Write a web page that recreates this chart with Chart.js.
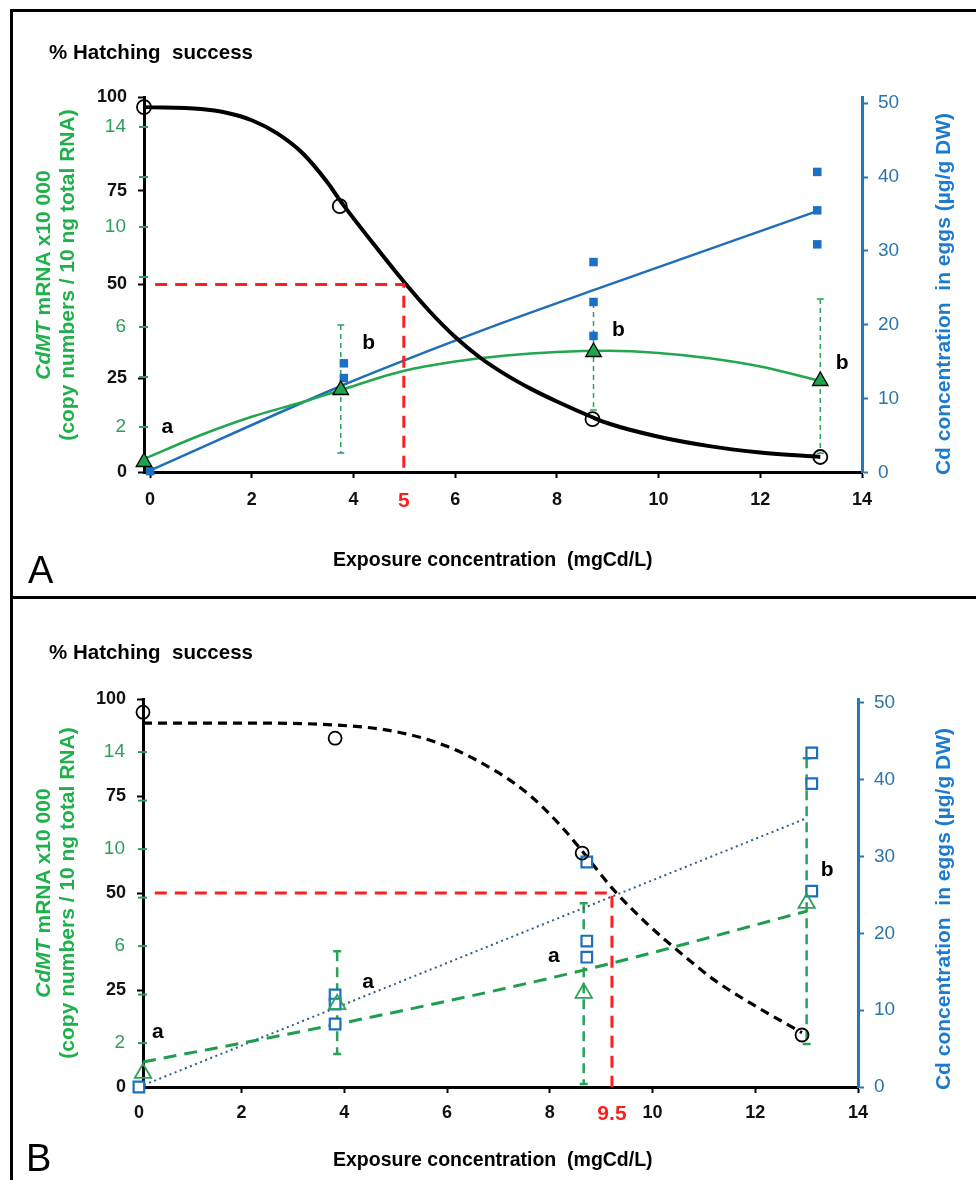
<!DOCTYPE html>
<html>
<head>
<meta charset="utf-8">
<title>Hatching success, CdMT mRNA and Cd in eggs</title>
<script src="https://cdn.jsdelivr.net/npm/chart.js"></script>
<style>
  body {
    margin: 0;
    width: 976px;
    height: 1180px;
    overflow: hidden;
    background: #fff;
    position: relative;
    font-family: "Liberation Sans", Arial, sans-serif;
  }
  canvas { position: absolute; left: 0; }
  #chartA { top: 0; }
  #chartB { top: 597px; }
  .frame {
    position: absolute; left: 10px; top: 9px; width: 990px; height: 1200px;
    border-left: 3px solid #000; border-top: 3px solid #000;
  }
  .divider { position: absolute; left: 10px; top: 596px; width: 990px; height: 3px; background: #000; }
  .txt { position: absolute; white-space: nowrap; font-weight: bold; line-height: 1; color: #000; }
  .panel { position: absolute; font-size: 38px; line-height: 1; }
  .ytitle {
    position: absolute; font-weight: bold; text-align: center; white-space: nowrap;
    transform: rotate(-90deg);
  }
  .green { color: #1fb04c; font-size: 21px; line-height: 24px; width: 360px; height: 48px; }
  .blue { color: #1c7ad0; font-size: 21px; line-height: 24px; width: 420px; height: 24px; }
</style>
</head>
<body>
<canvas id="chartA" width="976" height="597"></canvas>
<canvas id="chartB" width="976" height="583"></canvas>

<div class="frame"></div>
<div class="divider"></div>

<div class="txt" style="left:49px; top:41.6px; font-size:20.5px">% Hatching&nbsp; success</div>
<div class="txt" style="left:49px; top:641.6px; font-size:20.5px">% Hatching&nbsp; success</div>

<div class="ytitle green" style="left:-125px; top:251px"><div><i>CdMT</i> mRNA x10 000</div><div>(copy numbers / 10 ng total RNA)</div></div>
<div class="ytitle green" style="left:-125px; top:869px"><div><i>CdMT</i> mRNA x10 000</div><div>(copy numbers / 10 ng total RNA)</div></div>

<div class="ytitle blue" style="left:733px; top:282px">Cd concentration&nbsp; in eggs (µg/g DW)</div>
<div class="ytitle blue" style="left:733px; top:897px">Cd concentration&nbsp; in eggs (µg/g DW)</div>

<div class="txt" style="left:333px; top:549.5px; font-size:19.5px">Exposure concentration&nbsp; (mgCd/L)</div>
<div class="txt" style="left:333px; top:1149.5px; font-size:19.5px">Exposure concentration&nbsp; (mgCd/L)</div>

<div class="panel" style="left:28px; top:551px">A</div>
<div class="panel" style="left:26px; top:1139px">B</div>

<script>
// axis ticks
const xTicks = [0, 2, 4, 6, 8, 10, 12, 14];
const hatchTicks = [0, 25, 50, 75, 100];
const cdTicks = [0, 10, 20, 30, 40, 50];
const mtTicks = [2, 4, 6, 8, 10, 12, 14];
const mtTickLabels = [2, 6, 10, 14];

// ---- Panel A ----
// % hatching success (open circles) + fitted curve
const hatchDoseA = [-0.12, 3.73, 8.7, 13.18];
const hatchA = [97.3, 70.9, 14.1, 4.0];
const hatchFitDoseA = [-0.12, 1, 1.5, 2, 2.5, 3, 3.5, 3.73, 4.5, 5, 5.5, 6, 6.5, 7, 7.5, 8, 8.7, 9, 10, 11, 12, 13.18];
const hatchFitA = [97.3, 96.8, 95.8, 93.8, 90.3, 85, 77, 72.5, 59, 50.6, 42.8, 36, 30.4, 25.9, 22.1, 18.8, 14.6, 13.0, 9.4, 6.9, 5.2, 4.0];
// CdMT mRNA (triangles), error bars and fit
const mtDoseA = [-0.12, 3.75, 8.72, 13.18];
const mtA = [0.6, 3.48, 5.0, 3.84];
const mtLowA = [null, 0.96, 2.68, 0.95];
const mtHighA = [null, 6.08, 6.96, 7.12];
const mtFitDoseA = [-0.12, 1, 2, 3, 3.75, 5, 6, 7, 8, 9, 10, 11, 12, 13.18];
const mtFitA = [0.72, 1.68, 2.41, 3.0, 3.48, 4.25, 4.62, 4.86, 5.0, 5.05, 4.96, 4.75, 4.42, 3.84];
// Cd in eggs (squares) and fit
const cdDoseA = [0, 3.81, 3.81, 8.72, 8.72, 8.72, 13.12, 13.12, 13.12];
const cdA = [0.2, 14.8, 12.8, 28.5, 23.1, 18.5, 40.7, 35.5, 30.9];
const cdFitDoseA = [0, 3.81, 5, 6.9, 8.72, 13.12];
const cdFitA = [0.3, 11.9, 15.2, 20.2, 24.7, 35.4];
// EC50 marker
const ec50A = 4.99;
const ec50LabelA = "5";
const refDoseA = [0.1, 4.99, 4.99];
const refHatchA = [50, 50, 0];
// significance letters
const lettersA = ["a", "b", "b", "b"];
const letterDoseA = [0.34, 4.3, 9.21, 13.61];
const letterMtA = [2.0, 5.36, 5.88, 4.56];

// ---- Panel B ----
const hatchDoseB = [0.08, 3.82, 8.63, 12.91];
const hatchB = [96.6, 89.9, 60.3, 13.4];
const hatchFitDoseB = [0.08, 2, 3.82, 5, 6, 7, 7.6, 8.2, 8.63, 9.23, 9.9, 10.55, 11.2, 11.96, 12.91];
const hatchFitB = [93.8, 93.8, 93.3, 91.6, 87.8, 81, 75.3, 67.5, 60.8, 51, 42, 34.5, 27.6, 21.2, 14.0];
const mtDoseB = [0.08, 3.86, 8.66, 13.0];
const mtB = [0.76, 3.6, 4.06, 7.77];
const mtLowB = [null, 1.55, 0.31, 1.96];
const mtHighB = [null, 5.79, 7.77, 13.75];
const mtFitDoseB = [0.08, 3.86, 8.66, 13.0];
const mtFitB = [1.22, 2.78, 5.01, 7.44];
const cdDoseB = [0, 3.82, 3.82, 3.82, 8.72, 8.72, 8.72, 13.1, 13.1, 13.1];
const cdB = [0, 12.0, 10.8, 8.2, 29.3, 19.0, 16.9, 43.5, 39.5, 25.5];
const cdFitDoseB = [0, 13.0];
const cdFitB = [0, 35.0];
const ec50B = 9.21;
const ec50LabelB = "9.5";
const refDoseB = [0.31, 9.21, 9.21];
const refHatchB = [50, 50, 0];
const lettersB = ["a", "a", "a", "b"];
const letterDoseB = [0.37, 4.46, 8.08, 13.4];
const letterMtB = [2.45, 4.52, 5.59, 9.13];

const GREEN = "#1fa34c";
const BLUE = "#1d6fbc";
const RED = "#ff1e1e";
const FONT = "'Liberation Sans', Arial, sans-serif";

Chart.defaults.font.family = FONT;

const pts = (xs, ys) => xs.map((x, i) => ({ x: x, y: ys[i] }));

// green CdMT axis sits on top of the black hatching axis
const greenAxis = {
  id: "greenAxis",
  afterDraw(chart, args, opts) {
    const ctx = chart.ctx;
    const yg = chart.scales.yg;
    const x0 = chart.chartArea.left;
    ctx.save();
    ctx.strokeStyle = opts.color;
    ctx.fillStyle = opts.color;
    ctx.lineWidth = 2;
    ctx.font = "19px " + FONT;
    ctx.textAlign = "right";
    ctx.textBaseline = "middle";
    mtTicks.forEach((v) => {
      const y = yg.getPixelForValue(v);
      ctx.beginPath();
      ctx.moveTo(x0 - 5, y);
      ctx.lineTo(x0 + 4, y);
      ctx.stroke();
      if (mtTickLabels.includes(v)) ctx.fillText(v, x0 - 18, y);
    });
    ctx.restore();
  },
};

const errorBars = {
  id: "errorBars",
  beforeDatasetsDraw(chart, args, opts) {
    const ctx = chart.ctx;
    const xs = chart.scales.x;
    const yg = chart.scales.yg;
    ctx.save();
    ctx.strokeStyle = opts.color;
    ctx.lineWidth = opts.width;
    opts.dose.forEach((d, i) => {
      if (opts.low[i] == null) return;
      const px = xs.getPixelForValue(d);
      const top = yg.getPixelForValue(opts.high[i]);
      const bot = yg.getPixelForValue(opts.low[i]);
      ctx.setLineDash(opts.dash);
      ctx.beginPath();
      ctx.moveTo(px, top);
      ctx.lineTo(px, bot);
      ctx.stroke();
      ctx.setLineDash([]);
      ctx.beginPath();
      ctx.moveTo(px - opts.cap, top);
      ctx.lineTo(px + opts.cap, top);
      ctx.moveTo(px - opts.cap, bot);
      ctx.lineTo(px + opts.cap, bot);
      ctx.stroke();
    });
    ctx.restore();
  },
};

const sigLetters = {
  id: "sigLetters",
  afterDatasetsDraw(chart, args, opts) {
    const ctx = chart.ctx;
    ctx.save();
    ctx.fillStyle = "#000";
    ctx.font = "bold 21px " + FONT;
    ctx.textAlign = "center";
    ctx.textBaseline = "middle";
    opts.text.forEach((t, i) => {
      ctx.fillText(t, chart.scales.x.getPixelForValue(opts.dose[i]), chart.scales.yg.getPixelForValue(opts.mt[i]));
    });
    ctx.restore();
  },
};

function buildPanel(id, p) {
  const isEc50 = (c) => c.tick && Math.abs(c.tick.value - p.ec50) < 1e-6;
  return new Chart(document.getElementById(id), {
    type: "scatter",
    data: {
      datasets: [
        {
          label: "hatching",
          data: pts(p.hatchDose, p.hatch),
          yAxisID: "y",
          pointStyle: "circle",
          pointRadius: p.open ? 6.5 : 7,
          pointBorderWidth: 1.8,
          pointBorderColor: "#000",
          pointBackgroundColor: "rgba(255,255,255,0)",
          clip: false,
          order: 0,
        },
        {
          label: "CdMT",
          data: pts(p.mtDose, p.mt),
          yAxisID: "yg",
          pointStyle: "triangle",
          pointRadius: p.open ? 9.5 : 9,
          pointBorderWidth: p.open ? 1.8 : 1.3,
          pointBorderColor: p.open ? "#2aa457" : "#000",
          pointBackgroundColor: p.open ? "rgba(255,255,255,0)" : GREEN,
          clip: false,
          order: 1,
        },
        {
          label: "Cd",
          data: pts(p.cdDose, p.cd),
          yAxisID: "yb",
          pointStyle: "rect",
          pointRadius: p.open ? 7.5 : 6,
          pointBorderWidth: p.open ? 2.2 : 0,
          pointBorderColor: BLUE,
          pointBackgroundColor: p.open ? "#fff" : "#1a70c2",
          clip: false,
          order: 2,
        },
        {
          label: "EC50",
          data: pts(p.refDose, p.refHatch),
          yAxisID: "y",
          showLine: true,
          pointRadius: 0,
          borderColor: RED,
          borderWidth: 3,
          borderDash: [12, 8],
          clip: false,
          order: 3,
        },
        {
          label: "hatching fit",
          data: pts(p.hatchFitDose, p.hatchFit),
          yAxisID: "y",
          showLine: true,
          pointRadius: 0,
          borderColor: "#000",
          borderWidth: p.open ? 3.2 : 4,
          borderDash: p.open ? [9, 6] : [],
          cubicInterpolationMode: "monotone",
          clip: false,
          order: 4,
        },
        {
          label: "CdMT fit",
          data: pts(p.mtFitDose, p.mtFit),
          yAxisID: "yg",
          showLine: true,
          pointRadius: 0,
          borderColor: p.open ? "#1f9d4f" : "#22a64e",
          borderWidth: p.open ? 3 : 2.5,
          borderDash: p.open ? [13, 8] : [],
          cubicInterpolationMode: "monotone",
          clip: false,
          order: 5,
        },
        {
          label: "Cd fit",
          data: pts(p.cdFitDose, p.cdFit),
          yAxisID: "yb",
          showLine: true,
          pointRadius: 0,
          borderColor: p.open ? "#2d5f8e" : "#1e6fb8",
          borderWidth: p.open ? 2 : 2.5,
          borderDash: p.open ? [2, 3.5] : [],
          cubicInterpolationMode: "monotone",
          clip: false,
          order: 6,
        },
      ],
    },
    options: {
      responsive: false,
      animation: false,
      events: [],
      layout: { padding: { top: p.top, left: 0, right: 0, bottom: 0 } },
      plugins: {
        legend: { display: false },
        tooltip: { enabled: false },
        greenAxis: { color: "#2e9d5c" },
        errorBars: {
          dose: p.mtDose,
          low: p.mtLow,
          high: p.mtHigh,
          color: "#2aa15a",
          width: p.open ? 2.5 : 1.5,
          dash: p.open ? [10, 6] : [5, 4],
          cap: p.open ? 4 : 3.5,
        },
        sigLetters: { text: p.letters, dose: p.letterDose, mt: p.letterMt },
      },
      scales: {
        x: {
          type: "linear",
          min: p.xMin,
          max: 14,
          afterBuildTicks: (s) => {
            s.ticks = xTicks.concat([p.ec50]).sort((a, b) => a - b).map((v) => ({ value: v }));
          },
          afterFit: (s) => { s.height = p.xHeight; },
          border: { color: "#000", width: 3 },
          grid: {
            drawOnChartArea: false,
            tickLength: 6,
            tickWidth: 2,
            tickColor: (c) => (isEc50(c) ? "rgba(0,0,0,0)" : "#000"),
          },
          ticks: {
            autoSkip: false,
            maxRotation: 0,
            padding: p.xPad,
            color: (c) => (isEc50(c) ? RED : "#111"),
            font: (c) => (isEc50(c) ? { size: 21, weight: "bold" } : { size: 18, weight: "bold" }),
            callback: (v) => (Math.abs(v - p.ec50) < 1e-6 ? p.ec50Label : v),
          },
        },
        y: {
          position: "left",
          min: 0,
          max: 100,
          afterBuildTicks: (s) => { s.ticks = hatchTicks.map((v) => ({ value: v })); },
          afterFit: (s) => { s.width = p.leftWidth; },
          border: { color: "#000", width: 3 },
          grid: { drawOnChartArea: false, tickLength: 6, tickWidth: 2, tickColor: "#000" },
          ticks: { color: "#111", font: { size: 18, weight: "bold" }, padding: 11 },
        },
        yg: {
          display: false,
          min: p.mtMin,
          max: p.mtMax,
        },
        yb: {
          position: "right",
          min: p.cdMin,
          max: p.cdMax,
          afterBuildTicks: (s) => { s.ticks = cdTicks.map((v) => ({ value: v })); },
          afterFit: (s) => { s.width = p.rightWidth; },
          border: { color: "#2777b6", width: 3 },
          grid: { drawOnChartArea: false, tickLength: 6, tickWidth: 2, tickColor: "#2777b6" },
          ticks: { color: "#2b74ad", font: { size: 19 }, padding: 10 },
        },
      },
    },
    plugins: [greenAxis, errorBars, sigLetters],
  });
}

let chartA = buildPanel("chartA", {
  open: false,
  top: 97, xHeight: 125, leftWidth: 144, rightWidth: 114, xPad: 11,
  xMin: -0.12, mtMin: 0.2, mtMax: 15.2, cdMin: 0.09, cdMax: 50.84,
  hatchDose: hatchDoseA, hatch: hatchA, hatchFitDose: hatchFitDoseA, hatchFit: hatchFitA,
  mtDose: mtDoseA, mt: mtA, mtLow: mtLowA, mtHigh: mtHighA, mtFitDose: mtFitDoseA, mtFit: mtFitA,
  cdDose: cdDoseA, cd: cdA, cdFitDose: cdFitDoseA, cdFit: cdFitA,
  ec50: ec50A, ec50Label: ec50LabelA, refDose: refDoseA, refHatch: refHatchA,
  letters: lettersA, letterDose: letterDoseA, letterMt: letterMtA,
});

let chartB = buildPanel("chartB", {
  open: true,
  top: 102, xHeight: 93, leftWidth: 143, rightWidth: 118, xPad: 9,
  xMin: 0.08, mtMin: 0.19, mtMax: 16.19, cdMin: 0, cdMax: 50.52,
  hatchDose: hatchDoseB, hatch: hatchB, hatchFitDose: hatchFitDoseB, hatchFit: hatchFitB,
  mtDose: mtDoseB, mt: mtB, mtLow: mtLowB, mtHigh: mtHighB, mtFitDose: mtFitDoseB, mtFit: mtFitB,
  cdDose: cdDoseB, cd: cdB, cdFitDose: cdFitDoseB, cdFit: cdFitB,
  ec50: ec50B, ec50Label: ec50LabelB, refDose: refDoseB, refHatch: refHatchB,
  letters: lettersB, letterDose: letterDoseB, letterMt: letterMtB,
});
</script>
</body>
</html>
